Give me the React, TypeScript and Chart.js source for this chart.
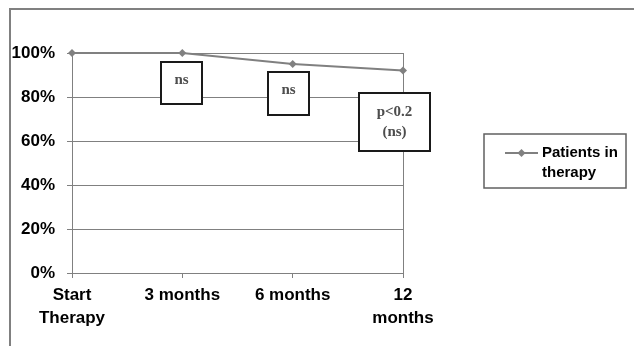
import React, { useEffect, useRef } from "react";
import { Chart, registerables } from "chart.js";

Chart.register(...registerables);

const categories: (string | string[])[] = [["Start", "Therapy"], "3 months", "6 months", ["12", "months"]];
const patientsInTherapy: number[] = [100, 100, 95, 92];
const seriesName: string[] = ["Patients in", "therapy"];
const yTicks: number[] = [0, 20, 40, 60, 80, 100];

// significance notes: text lines, category index, y range (in %)
const noteTexts: string[][] = [["ns"], ["ns"], ["p<0.2", "(ns)"]];
const noteIndex: number[] = [1, 2, 3];
const noteTop: number[] = [95.9, 91.4, 81.8];
const noteBottom: number[] = [76.8, 71.8, 55.5];

const GRAY = "#808080";
const SANS = "'Liberation Sans', Arial, sans-serif";
const SERIF = "'Liberation Serif', 'Times New Roman', serif";

const decorPlugin = {
  id: "decor",
  beforeDraw(chart: any) {
    const ctx = chart.ctx;
    ctx.save();
    ctx.fillStyle = "#ffffff";
    ctx.fillRect(0, 0, chart.width, chart.height);
    // outer frame
    ctx.strokeStyle = GRAY;
    ctx.lineWidth = 2;
    ctx.beginPath();
    ctx.moveTo(10, chart.height + 5);
    ctx.lineTo(10, 9);
    ctx.lineTo(chart.width + 5, 9);
    ctx.stroke();
    ctx.restore();
  },
  afterDraw(chart: any) {
    const ctx = chart.ctx;
    const xs = chart.scales.x;
    const ys = chart.scales.y;
    ctx.save();
    // note boxes
    const offsets = [-0.5, -4.5, -8.5];
    const widths = [41, 41, 71];
    noteTexts.forEach((lines, i) => {
      const cx = xs.getPixelForValue(noteIndex[i]) + offsets[i];
      const top = Math.round(ys.getPixelForValue(noteTop[i]));
      const bottom = Math.round(ys.getPixelForValue(noteBottom[i]));
      const w = widths[i];
      const left = Math.round(cx - w / 2);
      ctx.fillStyle = "#ffffff";
      ctx.fillRect(left, top, w, bottom - top);
      ctx.strokeStyle = "#1a1a1a";
      ctx.lineWidth = 2;
      ctx.strokeRect(left, top, w, bottom - top);
      ctx.fillStyle = "#4d4d4d";
      ctx.font = "bold 15px " + SERIF;
      ctx.textAlign = "center";
      ctx.textBaseline = "middle";
      const lh = 20;
      const mid = (top + bottom) / 2 - (lines.length === 1 ? 3 : 0);
      lines.forEach((t, j) => {
        ctx.fillText(t, left + w / 2, mid + (j - (lines.length - 1) / 2) * lh);
      });
    });
    // legend
    const lx = 484, ly = 134, lw = 142, lhgt = 54;
    ctx.fillStyle = "#ffffff";
    ctx.fillRect(lx, ly, lw, lhgt);
    ctx.strokeStyle = "#606060";
    ctx.lineWidth = 1.5;
    ctx.strokeRect(lx, ly, lw, lhgt);
    ctx.strokeStyle = GRAY;
    ctx.lineWidth = 2;
    ctx.beginPath();
    ctx.moveTo(505, 153);
    ctx.lineTo(538, 153);
    ctx.stroke();
    ctx.fillStyle = GRAY;
    ctx.beginPath();
    ctx.moveTo(521.5, 149);
    ctx.lineTo(525.5, 153);
    ctx.lineTo(521.5, 157);
    ctx.lineTo(517.5, 153);
    ctx.closePath();
    ctx.fill();
    ctx.fillStyle = "#000000";
    ctx.font = "bold 15px " + SANS;
    ctx.textAlign = "left";
    ctx.textBaseline = "middle";
    seriesName.forEach((t, j) => ctx.fillText(t, 542, 153 + j * 20));
    ctx.restore();
  },
};

export default function App() {
  const ref = useRef<HTMLCanvasElement | null>(null);
  useEffect(() => {
    if (!ref.current) return;
    const chart = new Chart(ref.current, {
      type: "line",
      data: {
        labels: categories as any,
        datasets: [
          {
            label: seriesName.join(" "),
            data: patientsInTherapy,
            borderColor: GRAY,
            backgroundColor: GRAY,
            borderWidth: 2,
            pointStyle: "rectRot",
            pointRadius: 4,
            pointBackgroundColor: GRAY,
            pointBorderColor: GRAY,
            pointBorderWidth: 0,
            tension: 0,
            clip: false,
          } as any,
        ],
      },
      options: {
        animation: false,
        responsive: false,
        maintainAspectRatio: false,
        layout: { padding: { left: 0, right: 231, top: 53, bottom: 0 } },
        plugins: { legend: { display: false }, tooltip: { enabled: false } },
        scales: {
          x: {
            offset: false,
            afterFit: (s: any) => {
              s.height = 73;
            },
            grid: {
              color: (c: any) => (c.index === categories.length - 1 ? GRAY : "rgba(0,0,0,0)"),
              tickColor: GRAY,
              tickLength: 5,
              lineWidth: 1,
            },
            border: { display: true, color: GRAY, width: 1 },
            ticks: {
              autoSkip: false,
              maxRotation: 0,
              minRotation: 0,
              padding: 6,
              color: "#000000",
              font: { family: SANS, size: 17, weight: "bold", lineHeight: 1.35 },
            },
          },
          y: {
            min: 0,
            max: 100,
            afterFit: (s: any) => {
              s.width = 72;
            },
            afterBuildTicks: (s: any) => {
              s.ticks = yTicks.map((v) => ({ value: v }));
            },
            grid: { color: GRAY, tickColor: GRAY, tickLength: 5, lineWidth: 1 },
            border: { display: true, color: GRAY, width: 1 },
            ticks: {
              padding: 12,
              color: "#000000",
              font: { family: SANS, size: 17, weight: "bold" },
              callback: (v: any) => v + "%",
            },
          },
        },
      },
      plugins: [decorPlugin],
    });
    return () => chart.destroy();
  }, []);
  return (
    <div style={{ position: "absolute", left: 0, top: 0, width: 634, height: 346 }}>
      <canvas ref={ref} width={634} height={346} style={{ display: "block" }} />
    </div>
  );
}
